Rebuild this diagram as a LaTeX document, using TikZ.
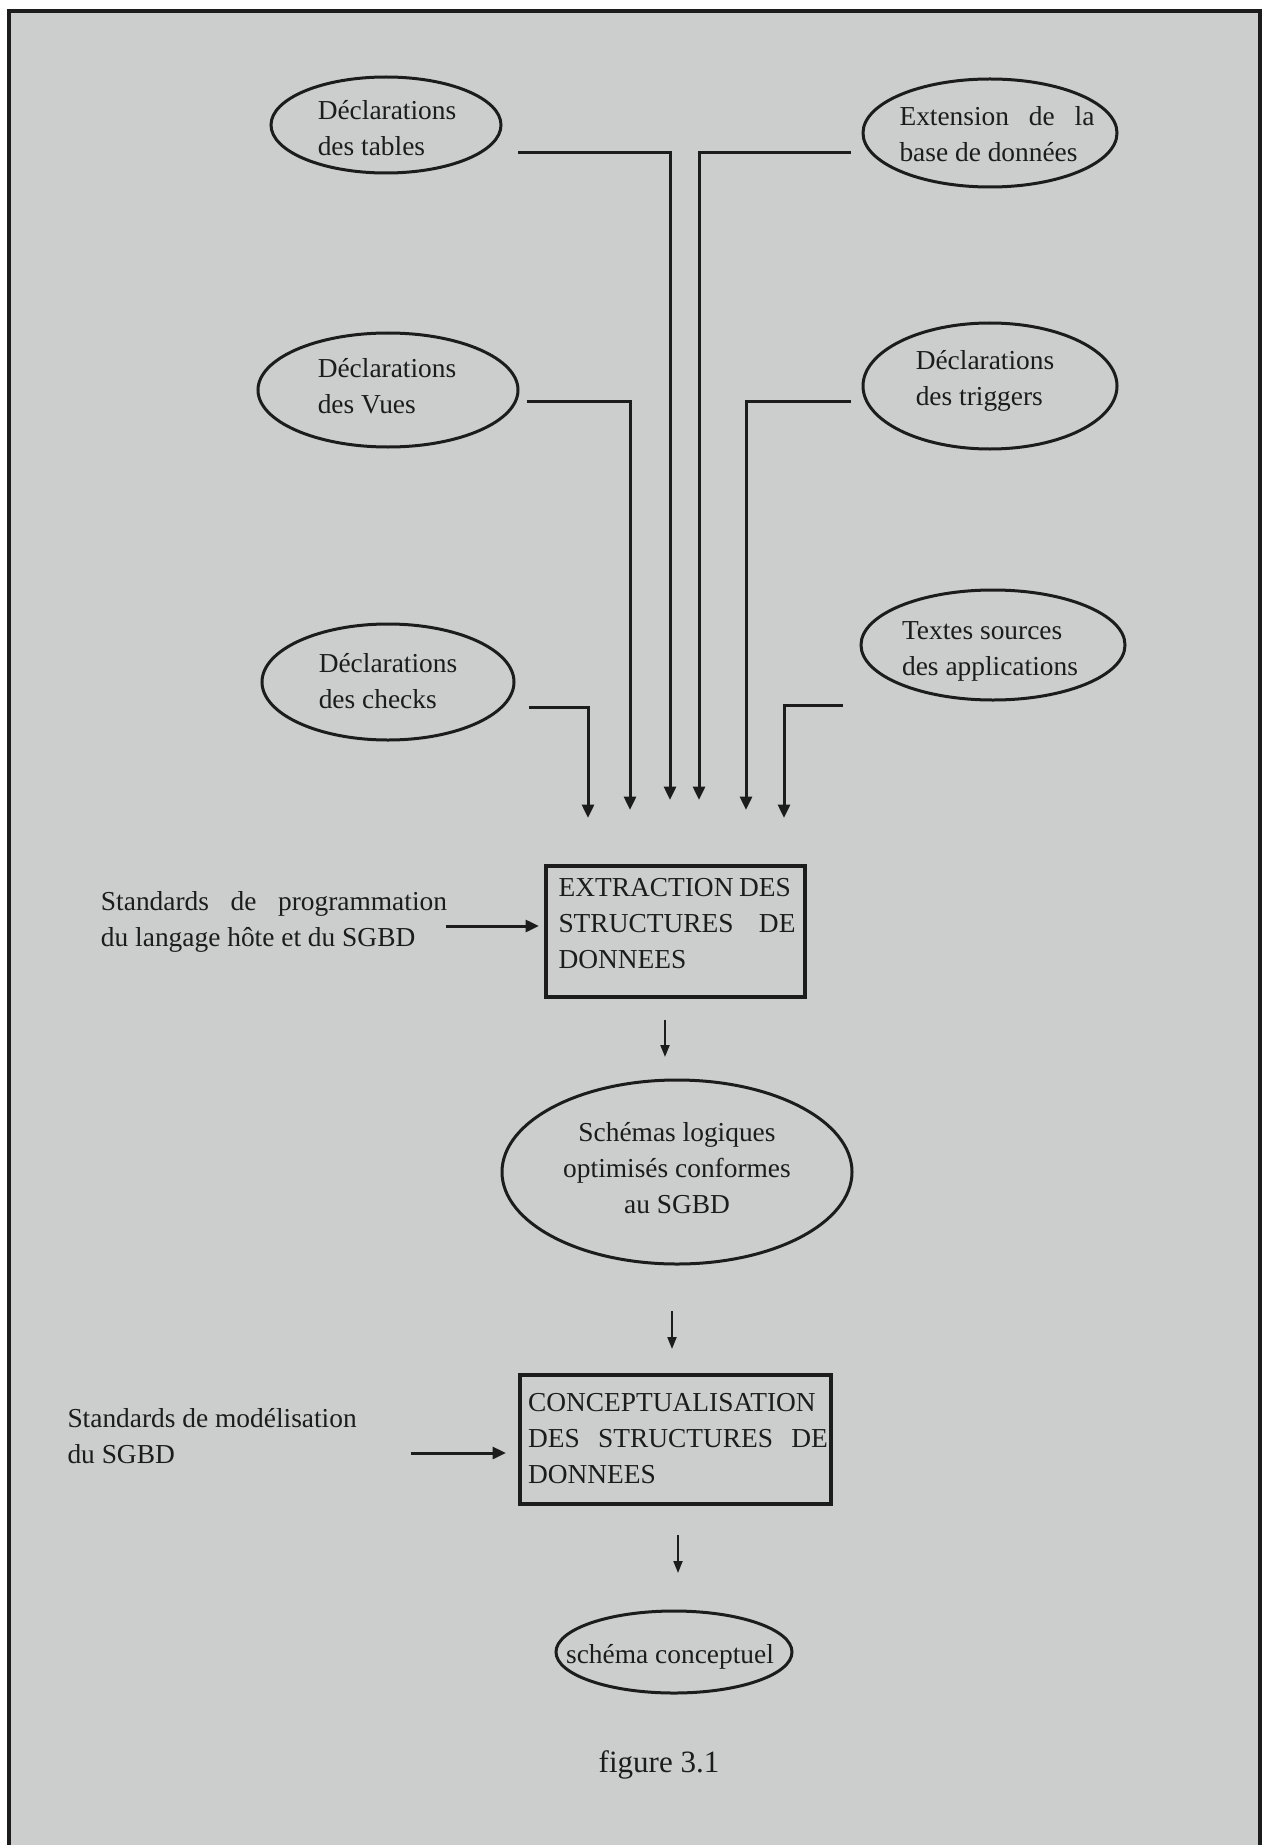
\documentclass[tikz,border=0pt]{standalone}
\usepackage{fontspec}
\setmainfont{Liberation Serif}
\usetikzlibrary{shapes.geometric,arrows.meta}
\definecolor{paper}{RGB}{203,206,205}
\definecolor{ink}{RGB}{28,28,28}
\begin{document}
\begin{tikzpicture}[x=0.4pt,y=-0.4pt,
  every node/.style={text=ink, font=\fontsize{10.96pt}{14.4pt}\selectfont},
  oval/.style={ellipse, draw=ink, line width=1.2pt, inner sep=0pt},
  block/.style={rectangle, draw=ink, line width=1.3pt, inner sep=0pt},
  txt/.style={inner sep=0pt, align=left},
  ctxt/.style={inner sep=0pt, align=center},
  feed/.style={draw=ink, line width=1.2pt, -{Triangle[length=5.4pt,width=4.8pt]}},
  flow/.style={draw=ink, line width=0.8pt, -{Triangle[length=4.8pt,width=3.6pt]}}]
\useasboundingbox (0,0) rectangle (1265,1845);
\fill[white] (0,0) rectangle (1265,1845);
% framed grey sheet
\filldraw[fill=paper, draw=ink, line width=1.6pt] (9,11) rectangle (1260,1870);

% ---- sources ----
\node[oval, minimum width=92pt, minimum height=38.4pt] (tables) at (386,125) {};
\node[txt] (tablesT) at (387,128) {Déclarations\\des tables};

\node[oval, minimum width=101.6pt, minimum height=43.2pt] (ext) at (990,133) {};
\node[txt] (extT) at (997,134) {\makebox[78pt][s]{Extension de la}\\base de données};

\node[oval, minimum width=104pt, minimum height=45.6pt] (vues) at (388,390) {};
\node[txt] (vuesT) at (387,386) {Déclarations\\des Vues};

\node[oval, minimum width=101.6pt, minimum height=50.4pt] (trig) at (990,386) {};
\node[txt] (trigT) at (985,381) {Déclarations\\des triggers};

\node[oval, minimum width=100.8pt, minimum height=46.4pt] (checks) at (388,682) {};
\node[txt] (checksT) at (388,681) {Déclarations\\des checks};

\node[oval, minimum width=105.6pt, minimum height=44pt] (textes) at (993,645) {};
\node[txt] (textesT) at (990,651) {Textes sources\\des applications};

% ---- feeds into the extraction step ----
\coordinate (tablesOut) at (518,153);  \coordinate (tablesIn) at (670,800);
\coordinate (extOut) at (851,153);     \coordinate (extIn) at (699,800);
\coordinate (vuesOut) at (527,401);    \coordinate (vuesIn) at (630,810);
\coordinate (trigOut) at (851,401);    \coordinate (trigIn) at (746,810);
\coordinate (checksOut) at (529,707);  \coordinate (checksIn) at (588,818);
\coordinate (textesOut) at (843,705);  \coordinate (textesIn) at (784,818);
\draw[feed] (tablesOut) -| (tablesIn);
\draw[feed] (extOut) -| (extIn);
\draw[feed] (vuesOut) -| (vuesIn);
\draw[feed] (trigOut) -| (trigIn);
\draw[feed] (checksOut) -| (checksIn);
\draw[feed] (textesOut) -| (textesIn);

% ---- extraction ----
\node[block, minimum width=103.6pt, minimum height=52.4pt] (extr) at (675.5,931.5) {};
\node[txt, anchor=west] (extrT) at (558,924) {EXTRACTION\kern-0.5pt\ DES\\\makebox[94.8pt][s]{STRUCTURES DE}\\DONNEES};

\node[txt] (std1) at (274,922) {\makebox[138.4pt][s]{Standards de programmation}\\du langage hôte et du SGBD};
\coordinate (std1Out) at (446,926); \coordinate (std1In) at (539,926);
\draw[feed] (std1Out) -- (std1In);

\coordinate (extrOut) at (665,1020); \coordinate (schIn) at (665,1057);
\draw[flow] (extrOut) -- (schIn);

% ---- logical schemas ----
\node[oval, minimum width=140pt, minimum height=73.6pt] (sch) at (677,1172) {};
\node[ctxt] (schT) at (677,1168) {Schémas logiques\\optimisés conformes\\au SGBD};

\coordinate (schOut) at (672,1311); \coordinate (concIn) at (672,1349);
\draw[flow] (schOut) -- (concIn);

% ---- conceptualisation ----
\node[block, minimum width=124.4pt, minimum height=51.6pt] (conc) at (675.5,1439.5) {};
\node[txt] (concT) at (678,1439) {CONCEPTUALISATION\\\makebox[120pt][s]{DES STRUCTURES DE}\\DONNEES};

\node[txt, anchor=west] (std2) at (67,1436) {Standards de modélisation\\du SGBD};
\coordinate (std2Out) at (411,1453); \coordinate (std2In) at (506,1453);
\draw[feed] (std2Out) -- (std2In);

\coordinate (concOut) at (678,1535); \coordinate (cschIn) at (678,1573);
\draw[flow] (concOut) -- (cschIn);

% ---- result ----
\node[oval, minimum width=94.4pt, minimum height=32.8pt] (csch) at (674,1652) {};
\node[ctxt] (cschT) at (670,1657) {schéma conceptuel};

\node[ctxt, font=\fontsize{12.4pt}{15pt}\selectfont] (fig) at (659,1765) {figure 3.1};
\end{tikzpicture}
\end{document}
